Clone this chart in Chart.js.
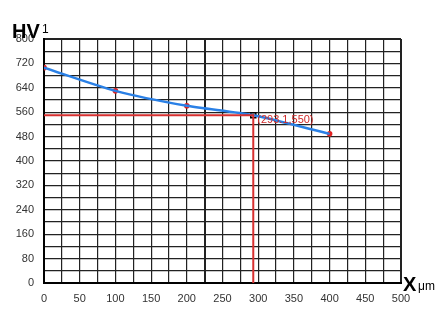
<!DOCTYPE html>
<html>
<head>
<meta charset="utf-8">
<script src="https://cdn.jsdelivr.net/npm/chart.js@4/dist/chart.umd.min.js"></script>
<style>
  html, body { margin: 0; padding: 0; background: #fff; }
  #wrap { width: 448px; height: 319px; }
</style>
</head>
<body>
<div id="wrap"><canvas id="hvChart" width="448" height="319"></canvas></div>
<script>
// ─── DATA ───
const depthUm = [0, 100, 200, 293.1, 400];
const hardness = [706, 630, 581, 550, 489];
const sampleX = [0, 100, 200, 400];
const sampleY = [706, 630, 581, 489];
const markX = 293.1;
const markY = 550;
const markLabel = '(293.1,550)';
const xMax = 500;
const yMax = 800;

const toPts = (xs, ys) => xs.map((x, i) => ({ x: x, y: ys[i] }));

// axis titles + label next to the marked point
const labelsPlugin = {
    id: 'labels',
    afterDraw(chart) {
        const ctx = chart.ctx;
        const xs = chart.scales.x, ys = chart.scales.y;
        ctx.save();
        ctx.fillStyle = '#000';
        ctx.textBaseline = 'alphabetic';
        ctx.font = 'bold 20px "Liberation Sans", Arial, sans-serif';
        ctx.fillText('HV', 12, 38);
        ctx.font = '12px "Liberation Sans", Arial, sans-serif';
        ctx.fillText('1', 42, 33);
        ctx.font = 'bold 20px "Liberation Sans", Arial, sans-serif';
        ctx.fillText('X', 403, 291);
        ctx.font = '12px "Liberation Sans", Arial, sans-serif';
        ctx.fillText('\u03bcm', 418, 290);
        // marked point label
        ctx.fillStyle = '#d02a2a';
        ctx.font = '11px "Liberation Sans", Arial, sans-serif';
        ctx.textBaseline = 'middle';
        ctx.fillText(markLabel, xs.getPixelForValue(markX) + 4, ys.getPixelForValue(markY) + 5);
        ctx.restore();
    }
};

const gridWidth = (ctx, heavy) => {
    const v = ctx.tick ? ctx.tick.value : null;
    if (v === 0 || heavy.indexOf(v) >= 0) return 2;
    return 1.2;
};

new Chart(document.getElementById('hvChart'), {
    type: 'scatter',
    data: {
        datasets: [
            {   // red guide lines to the marked point
                data: toPts([0, markX, markX], [markY, markY, 0]),
                showLine: true,
                borderColor: '#d83030',
                borderWidth: 2,
                pointRadius: 0,
                tension: 0
            },
            {
                data: toPts(depthUm, hardness),
                showLine: true,
                borderColor: '#2a80e6',
                borderWidth: 2.5,
                pointRadius: 0,
                tension: 0.25
            },
            {
                data: toPts(sampleX, sampleY),
                showLine: false,
                pointRadius: 2.8,
                pointBackgroundColor: '#e02020',
                pointBorderWidth: 0
            },
            {
                data: [{ x: markX, y: markY }],
                showLine: false,
                pointStyle: 'rect',
                pointRadius: 3.5,
                pointBackgroundColor: 'rgba(0,0,0,0)',
                pointBorderColor: '#000',
                pointBorderWidth: 1.6
            }
        ]
    },
    options: {
        responsive: false,
        animation: false,
        layout: { padding: { top: 39, right: 47, left: 0, bottom: 0 } },
        plugins: { legend: { display: false }, tooltip: { enabled: false } },
        scales: {
            x: {
                type: 'linear',
                min: 0, max: xMax,
                afterFit: s => { s.height = 36; },
                border: { display: true, color: '#000', width: 2 },
                grid: {
                    color: '#222',
                    lineWidth: ctx => gridWidth(ctx, [225, xMax]),
                    drawTicks: false
                },
                ticks: {
                    stepSize: 25,
                    padding: 9,
                    color: '#333',
                    maxRotation: 0,
                    autoSkip: false,
                    font: { family: '"Liberation Sans", Arial, sans-serif', size: 11 },
                    callback: v => (v % 50 === 0 ? String(v) : '')
                }
            },
            y: {
                type: 'linear',
                min: 0, max: yMax,
                afterFit: s => { s.width = 44; },
                border: { display: true, color: '#000', width: 2 },
                grid: {
                    color: '#222',
                    lineWidth: ctx => gridWidth(ctx, [yMax]),
                    drawTicks: false
                },
                ticks: {
                    stepSize: 40,
                    padding: 10,
                    color: '#333',
                    autoSkip: false,
                    font: { family: '"Liberation Sans", Arial, sans-serif', size: 11 },
                    callback: v => (v % 80 === 0 ? String(v) : '')
                }
            }
        }
    },
    plugins: [labelsPlugin]
});
</script>
</body>
</html>
